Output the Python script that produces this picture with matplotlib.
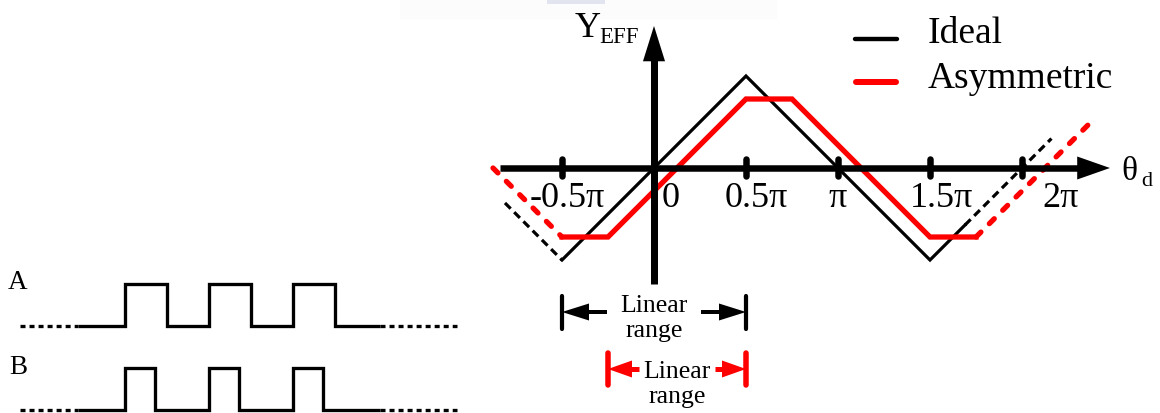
import matplotlib
matplotlib.use("Agg")
import matplotlib.pyplot as plt
from matplotlib.patches import Polygon, Rectangle

plt.rcParams['font.family'] = ['Liberation Serif', 'DejaVu Serif']
plt.rcParams['lines.scale_dashes'] = False

# ---- phase-detector transfer curve (x and y in units of pi) ----
tick_values = [-0.5, 0.5, 1.0, 1.5, 2.0]
tick_labels = ['-0.5π', '0', '0.5π', 'π', '1.5π', '2π']
tick_label_x = [-0.47, 0.092, 0.554, 1.0, 1.56, 2.207]

ideal_x = [-0.5, 0.5, 1.5, 1.69]
ideal_y = [-0.5, 0.5, -0.5, -0.31]
ideal_left_x = [-0.81, -0.5]
ideal_left_y = [-0.19, -0.5]
ideal_right_x = [1.69, 2.16]
ideal_right_y = [-0.31, 0.16]

asym_x = [-0.5, -0.25, 0.5, 0.75, 1.5, 1.75]
asym_y = [-0.375, -0.375, 0.375, 0.375, -0.375, -0.375]
asym_left_x = [-0.875, -0.5]
asym_left_y = [0.0, -0.375]
asym_right_x = [1.75, 2.36]
asym_right_y = [-0.375, 0.235]

ideal_linear_range = [-0.5, 0.5]
asym_linear_range = [-0.25, 0.5]

# ---- input clocks A and B (edge times) ----
a_edges = [0, 2, 4, 6, 8, 10]
b_edges = [0, 1.45, 4, 5.45, 8, 9.45]
wave_solid_span = [-2.24, 12.14]
wave_dotted_span = [-5.0, 15.8]
a_levels = [2, 3]
b_levels = [0, 1]

W, H = 1160, 414
fig = plt.figure(figsize=(W / 100, H / 100), dpi=100)
PT = 0.72  # points per pixel

# main axes: origin at pixel (654, 169), 184 px per unit
X0, Y0, S = 654, 169, 184
ax = fig.add_axes([0, 0, 1, 1])
ax.set_xlim(-X0 / S, (W - X0) / S)
ax.set_ylim(-(H - Y0) / S, Y0 / S)
ax.axis('off')


def px(x, y):
    return (x - X0) / S, (Y0 - y) / S


# faint band at the top
bx, by = px(400, 20)
ax.add_patch(Rectangle((bx, by), 377 / S, 20 / S, color='#fcfcfd', lw=0, zorder=0))
sx, sy = px(547, 5)
ax.add_patch(Rectangle((sx, sy), 58 / S, 5 / S, color='#e2e5ef', lw=0, zorder=0))

# axes with arrowheads
ax.plot([-0.837, 2.31], [0, 0], color='k', lw=6.5 * PT, solid_capstyle='butt', zorder=3)
ax.add_patch(Polygon([(2.30, 0.0625), (2.30, -0.0625), (2.478, 0)], closed=True,
                     color='k', lw=0, zorder=3))
ax.plot([0, 0], [-0.63, 0.59], color='k', lw=7 * PT, solid_capstyle='butt', zorder=3)
ax.add_patch(Polygon([(-0.06, 0.58), (0.06, 0.58), (0, 0.772)], closed=True,
                     color='k', lw=0, zorder=3))
for t in tick_values:
    ax.plot([t, t], [-0.042, 0.0475], color='k', lw=6.5 * PT,
            solid_capstyle='round', zorder=3)

for lx, lab in zip(tick_label_x, tick_labels):
    ax.text(lx, px(0, 207)[1], lab, fontsize=26, ha='center', va='baseline', zorder=4)

ax.text(*px(575, 37), 'Y', fontsize=26, ha='left', va='baseline')
ax.text(*px(599, 43), 'EFF', fontsize=16.5, ha='left', va='baseline')
ax.text(*px(1121, 180), 'θ', fontsize=24, ha='left', va='baseline')
ax.text(*px(1141, 186), 'd', fontsize=16, ha='left', va='baseline')

# curves
ax.plot(ideal_x, ideal_y, color='k', lw=2.3, solid_joinstyle='miter', zorder=2)
ax.plot(ideal_left_x, ideal_left_y, color='k', lw=2.3, dashes=(5.8, 3.6), zorder=2)
ax.plot(ideal_right_x, ideal_right_y, color='k', lw=2.3, dashes=(5.8, 3.6), zorder=2)

red = '#ff0000'
ax.plot(asym_x, asym_y, color=red, lw=3.8, solid_joinstyle='miter', zorder=2)
ax.plot(asym_left_x, asym_left_y, color=red, lw=3.8, dashes=(5, 8.6),
        dash_capstyle='round', zorder=2)
ax.plot(asym_right_x, asym_right_y, color=red, lw=3.8, dashes=(5, 8.6),
        dash_capstyle='round', zorder=2)

# legend
ax.plot(*zip(px(855, 40), px(897, 40)), color='k', lw=4 * PT * 1.1,
        solid_capstyle='round')
ax.plot(*zip(px(856, 83), px(896, 83)), color=red, lw=6 * PT,
        solid_capstyle='round')
ax.text(*px(928, 43), 'Ideal', fontsize=27, ha='left', va='baseline')
ax.text(*px(928, 88), 'Asymmetric', fontsize=27, ha='left', va='baseline')


def linear_range(rng, color, y_top, y_bot, y_arrow, head_len, head_half,
                 shaft_len, bar_lw, shaft_lw, text_base1, text_base2):
    lo, hi = rng
    for xb in (lo, hi):
        ax.plot([xb, xb], [y_top, y_bot], color=color, lw=bar_lw,
                solid_capstyle='round')
    for tip, d in ((lo, 1), (hi, -1)):
        ax.plot([tip + d * head_len * 0.8, tip + d * shaft_len], [y_arrow, y_arrow],
                color=color, lw=shaft_lw, solid_capstyle='butt')
        ax.add_patch(Polygon([(tip, y_arrow), (tip + d * head_len, y_arrow + head_half),
                              (tip + d * head_len, y_arrow - head_half)],
                             closed=True, color=color, lw=0))
    mid = (lo + hi) / 2
    ax.text(mid, text_base1, 'Linear', fontsize=18.5, ha='center', va='baseline')
    ax.text(mid, text_base2, 'range', fontsize=18.5, ha='center', va='baseline')


linear_range(ideal_linear_range, 'k', px(0, 297)[1], px(0, 330)[1], px(0, 313)[1],
             27 / S, 8.5 / S, 45 / S, 4.2 * PT, 4 * PT,
             px(0, 312)[1], px(0, 337)[1])
linear_range(asym_linear_range, red, px(0, 354)[1], px(0, 386)[1], px(0, 370)[1],
             24 / S, 8.5 / S, 31 / S, 5.5 * PT, 5 * PT,
             px(0, 378)[1], px(0, 403)[1])

# ---- waveforms A and B ----
T0, V0, TS, VS = 125, 411, 21, 42
wax = fig.add_axes([0, 0, 1, 1])
wax.set_xlim(-T0 / TS, (W - T0) / TS)
wax.set_ylim(-(H - V0) / VS, V0 / VS)
wax.axis('off')
wax.patch.set_alpha(0)


def clock(edges, levels):
    low, high = levels
    xs, ys = [wave_solid_span[0]], [low]
    for rise, fall in zip(edges[0::2], edges[1::2]):
        xs += [rise, rise, fall, fall]
        ys += [low, high, high, low]
    xs.append(wave_solid_span[1])
    ys.append(low)
    wax.plot(xs, ys, color='k', lw=3.3 * PT, solid_joinstyle='miter',
             solid_capstyle='butt')
    for seg in ((wave_dotted_span[0], wave_solid_span[0]),
                (wave_solid_span[1], wave_dotted_span[1])):
        wax.plot(seg, [low, low], color='k', lw=3.3 * PT, dashes=(3.6, 2.9))


clock(a_edges, a_levels)
clock(b_edges, b_levels)
wax.text((8 - T0) / TS, (V0 - 289) / VS, 'A', fontsize=19.5, ha='left', va='baseline')
wax.text((9 - T0) / TS, (V0 - 374) / VS, 'B', fontsize=19.5, ha='left', va='baseline')

fig.savefig('out.png', dpi=100, facecolor='white')
